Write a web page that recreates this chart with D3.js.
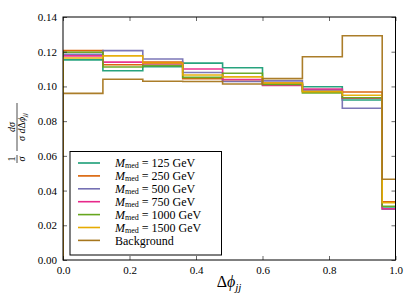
<!DOCTYPE html>
<meta charset="utf-8">
<style>
	body { margin: 0; background: #fff; }
	text { font-family: 'Liberation Serif', 'DejaVu Serif', serif; fill: #000; }
</style>
<script src="https://cdn.jsdelivr.net/npm/d3@7"></script>
<body>
<div id="chart"></div>
<script>
	// bin edges (width 0.12, last bin runs past 1.0 and is clipped)
	let edges = [0, 0.12, 0.24, 0.36, 0.48, 0.60, 0.72, 0.84, 0.96, 1.08];

	let labels = ["125", "250", "500", "750", "1000", "1500"];
	let colors = ["#1b9e77", "#d95f02", "#7570b3", "#e7298a", "#66a61e", "#e6ab02", "#a6761d"];

	let m125  = [0.1153, 0.1090, 0.1114, 0.1134, 0.1108, 0.1010, 0.0998, 0.0922, 0.0305];
	let m250  = [0.1206, 0.1125, 0.1140, 0.1045, 0.1030, 0.1020, 0.0972, 0.0968, 0.0335];
	let m500  = [0.1185, 0.1206, 0.1158, 0.1080, 0.1028, 0.1032, 0.0980, 0.0874, 0.0292];
	let m750  = [0.1176, 0.1140, 0.1130, 0.1100, 0.1040, 0.1005, 0.0985, 0.0932, 0.0295];
	let m1000 = [0.1197, 0.1112, 0.1120, 0.1052, 0.1076, 0.1012, 0.0963, 0.0935, 0.0310];
	let m1500 = [0.1164, 0.1176, 0.1135, 0.1066, 0.1055, 0.1020, 0.0970, 0.0949, 0.0330];
	let background = [0.0960, 0.1041, 0.1030, 0.1028, 0.1014, 0.1045, 0.1171, 0.1292, 0.0465];

	let series = [m125, m250, m500, m750, m1000, m1500, background];

	let xTicks = [0, 0.2, 0.4, 0.6, 0.8, 1.0];
	let yTicks = [0, 0.02, 0.04, 0.06, 0.08, 0.10, 0.12, 0.14];

	let W = 415, H = 306;
	let pl = 63, pr = 395.5, pt = 17, pb = 260;

	let svg = d3.select("#chart").append("svg")
		.attr("width", W)
		.attr("height", H);

	let x = d3.scaleLinear().domain([0, 1]).range([pl, pr]);
	let y = d3.scaleLinear().domain([0, 0.14]).range([pb, pt]);

	svg.append("clipPath").attr("id", "clip")
		.append("rect")
		.attr("x", pl).attr("y", pt)
		.attr("width", pr - pl).attr("height", pb - pt);

	function stepPath(vals) {
		let pts = [[edges[0], 0]];
		vals.forEach((v, i) => {
			pts.push([edges[i], v]);
			pts.push([edges[i + 1], v]);
		});
		pts.push([edges[edges.length - 1], 0]);
		return d3.line().x(d => x(d[0])).y(d => y(d[1]))(pts);
	}

	svg.append("g")
		.attr("clip-path", "url(#clip)")
		.selectAll("path")
		.data(series)
		.join("path")
		.attr("d", stepPath)
		.attr("fill", "none")
		.attr("stroke", (d, i) => colors[i])
		.attr("stroke-width", 1.6)
		.attr("stroke-opacity", 0.95);

	// axes, ticks inward on all sides
	let fmt = d3.format(".2f");
	svg.append("g")
		.attr("transform", `translate(0,${pb})`)
		.call(d3.axisBottom(x).tickValues(xTicks).tickFormat(d3.format(".1f")).tickSizeInner(-4).tickSizeOuter(0).tickPadding(6))
		.call(g => g.select(".domain").remove());
	svg.append("g")
		.attr("transform", `translate(0,${pt})`)
		.call(d3.axisTop(x).tickValues(xTicks).tickFormat("").tickSizeInner(-4).tickSizeOuter(0))
		.call(g => g.select(".domain").remove());
	svg.append("g")
		.attr("transform", `translate(${pl},0)`)
		.call(d3.axisLeft(y).tickValues(yTicks).tickFormat(fmt).tickSizeInner(-4).tickSizeOuter(0).tickPadding(6))
		.call(g => g.select(".domain").remove());
	svg.append("g")
		.attr("transform", `translate(${pr},0)`)
		.call(d3.axisRight(y).tickValues(yTicks).tickFormat("").tickSizeInner(-4).tickSizeOuter(0))
		.call(g => g.select(".domain").remove());

	svg.selectAll(".tick line").attr("stroke", "#000").attr("stroke-width", 0.6);
	svg.selectAll(".tick text").attr("font-family", "'Liberation Serif', serif").attr("font-size", 11);

	svg.append("rect")
		.attr("x", pl).attr("y", pt)
		.attr("width", pr - pl).attr("height", pb - pt)
		.attr("fill", "none").attr("stroke", "#000").attr("stroke-width", 1);

	// x label
	let xl = svg.append("text")
		.attr("x", 229).attr("y", 287)
		.attr("text-anchor", "middle")
		.attr("font-size", 16);
	xl.append("tspan").text("Δ");
	xl.append("tspan").attr("font-style", "italic").text("ϕ");
	xl.append("tspan").attr("font-style", "italic").attr("font-size", 11).attr("dy", 4).text("jj");

	// y label: 1/σ · dσ/dΔφjj, rotated
	let yl = svg.append("g").attr("transform", "translate(17,130) rotate(-90)");
	yl.append("text").attr("x", -29).attr("y", -2).attr("text-anchor", "middle").attr("font-size", 10).text("1");
	yl.append("line").attr("x1", -33).attr("x2", -25).attr("y1", 0).attr("y2", 0).attr("stroke", "#000").attr("stroke-width", 0.7);
	yl.append("text").attr("x", -29).attr("y", 8).attr("text-anchor", "middle").attr("font-size", 10).attr("font-style", "italic").text("σ");
	yl.append("text").attr("x", 3).attr("y", -2).attr("text-anchor", "middle").attr("font-size", 10).attr("font-style", "italic").text("dσ");
	yl.append("line").attr("x1", -21).attr("x2", 27).attr("y1", 0).attr("y2", 0).attr("stroke", "#000").attr("stroke-width", 0.7);
	let den = yl.append("text").attr("x", 3).attr("y", 8).attr("text-anchor", "middle").attr("font-size", 10);
	den.append("tspan").attr("font-style", "italic").text("σ d");
	den.append("tspan").text("Δ");
	den.append("tspan").attr("font-style", "italic").text("ϕ");
	den.append("tspan").attr("font-style", "italic").attr("font-size", 7).attr("dy", 2).text("jj");

	// legend
	let lg = svg.append("g");
	lg.append("rect")
		.attr("x", 70).attr("y", 151.5)
		.attr("width", 151.5).attr("height", 103.5)
		.attr("fill", "#fff").attr("stroke", "#000").attr("stroke-width", 1);
	let rowY = i => 163 + i * 12.9;
	series.forEach((s, i) => {
		lg.append("line")
			.attr("x1", 78).attr("x2", 100)
			.attr("y1", rowY(i)).attr("y2", rowY(i))
			.attr("stroke", colors[i]).attr("stroke-width", 1.6);
		let t = lg.append("text")
			.attr("x", 115).attr("y", rowY(i) + 4)
			.attr("font-size", 12);
		if (i < labels.length) {
			t.append("tspan").attr("font-style", "italic").text("M");
			t.append("tspan").attr("font-size", 8).attr("dy", 1).text("med");
			t.append("tspan").attr("dy", -1).text(" = " + labels[i] + " GeV");
		} else {
			t.attr("y", rowY(i) + 5).text("Background");
		}
	});
</script>
</body>
